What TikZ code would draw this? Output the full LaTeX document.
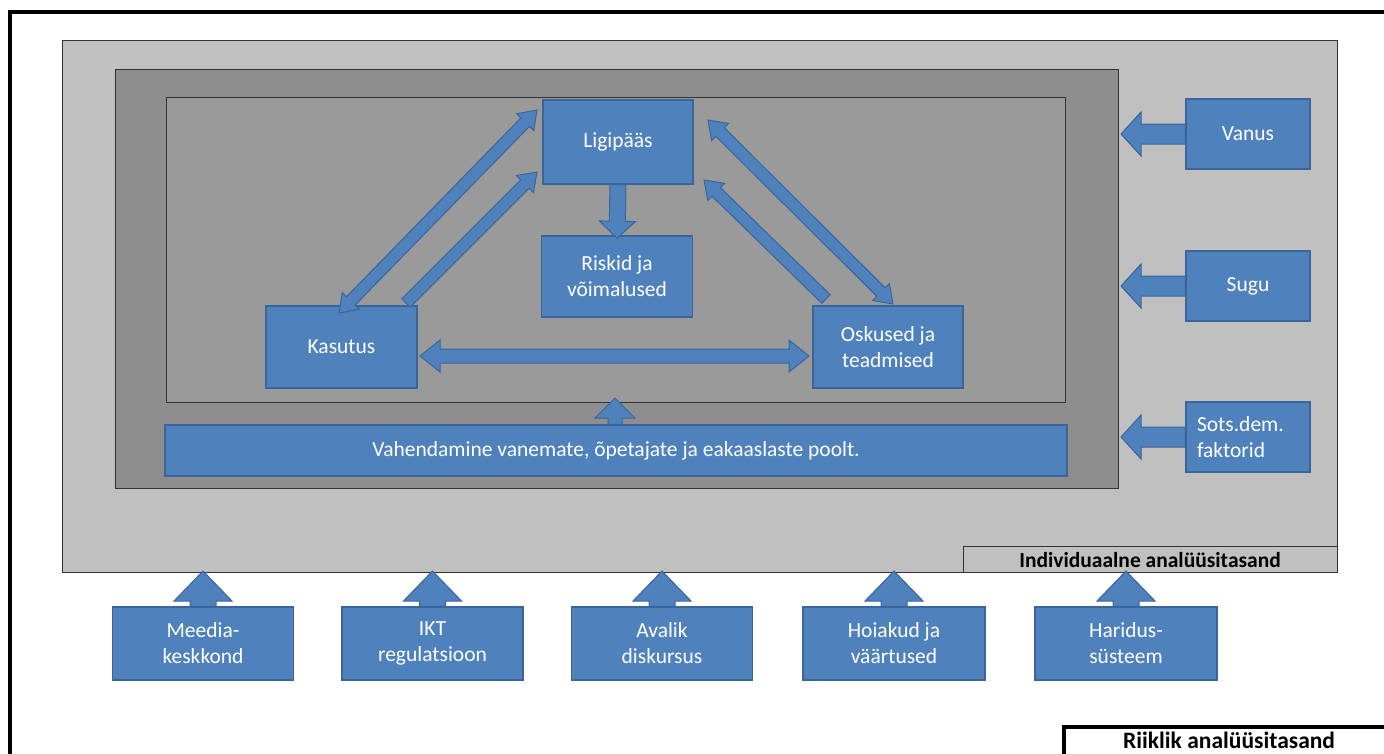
\documentclass[tikz,border=0pt]{standalone}
\usepackage{fontspec}
\setmainfont{Carlito}
\usetikzlibrary{calc}
\definecolor{boxblue}{HTML}{4F81BD}
\definecolor{boxedge}{HTML}{3A659A}
\definecolor{lgray}{HTML}{C0C0C0}
\definecolor{mgray}{HTML}{8E8E8E}
\definecolor{igray}{HTML}{9A9A9A}
\tikzset{
  bbox/.style={draw=boxedge, line width=1.5pt, fill=boxblue, text=white,
    font=\fontsize{21.5}{26}\selectfont, align=center, inner sep=0pt},
  arr/.style={draw=boxedge, line width=1pt, fill=boxblue},
  graybox/.style={draw=black!80, line width=0.8pt, inner sep=0pt},
  lbl/.style={font=\bfseries\fontsize{21.5}{24}\selectfont, inner sep=0pt}
}
\makeatletter
\newcommand{\blockarr}[6]{%
  \path (#1); \pgfgetlastxy{\ba@xa}{\ba@ya}%
  \path (#2); \pgfgetlastxy{\ba@xb}{\ba@yb}%
  \pgfmathsetmacro\ba@ang{atan2((\ba@yb)-(\ba@ya),(\ba@xb)-(\ba@xa))}%
  \pgfmathsetmacro\ba@len{veclen((\ba@xb)-(\ba@xa),(\ba@yb)-(\ba@ya))}%
  \begin{scope}[shift={(\ba@xa,\ba@ya)},rotate=\ba@ang]
  \ifnum#6=2\relax
   \filldraw[arr] (0pt,0pt) -- (#5pt,#4pt) -- (#5pt,#3pt) -- (\ba@len pt-#5pt,#3pt) -- (\ba@len pt-#5pt,#4pt) -- (\ba@len pt,0pt) -- (\ba@len pt-#5pt,-#4pt) -- (\ba@len pt-#5pt,-#3pt) -- (#5pt,-#3pt) -- (#5pt,-#4pt) -- cycle;
  \else
   \filldraw[arr] (0pt,#3pt) -- (\ba@len pt-#5pt,#3pt) -- (\ba@len pt-#5pt,#4pt) -- (\ba@len pt,0pt) -- (\ba@len pt-#5pt,-#4pt) -- (\ba@len pt-#5pt,-#3pt) -- (0pt,-#3pt) -- cycle;
  \fi
  \end{scope}}
\makeatother
\begin{document}
\begin{tikzpicture}[x=1pt,y=1pt]
\useasboundingbox (0,0) rectangle (1384,-753);
\clip (0,0) rectangle (1384,-753);
\fill[white] (0,0) rectangle (1384,-753);
% outer frame
\draw[line width=4pt] (1390,-12) -- (10,-12) -- (10,-760);
% gray levels
\node[graybox, fill=lgray, minimum width=1275pt, minimum height=532pt, anchor=north west] (lg) at (62,-40) {};
\node[graybox, fill=lgray, minimum width=374pt, minimum height=26pt, anchor=south east] (indiv) at (lg.south east) {};
\node[lbl, anchor=base] (indivtxt) at (1150,-567) {Individuaalne analüüsitasand};
\node[graybox, fill=mgray, minimum width=1003pt, minimum height=419pt, anchor=north west] (mg) at (115,-69) {};
\node[graybox, fill=igray, minimum width=899pt, minimum height=305pt, anchor=north west] (ig) at (166,-97) {};
% blue boxes
\node[bbox, minimum width=150pt, minimum height=84pt] (lig) at (618,-142) {Ligipääs};
\node[bbox, minimum width=151pt, minimum height=81pt] (risk) at (617,-276.5) {Riskid ja\\võimalused};
\node[bbox, minimum width=151pt, minimum height=82pt] (kas) at (341.5,-347) {Kasutus};
\node[bbox, minimum width=150pt, minimum height=82pt] (osk) at (888,-347) {Oskused ja\\teadmised};
\node[bbox, minimum width=902pt, minimum height=51pt] (bar) at (616,-450.5) {Vahendamine vanemate, õpetajate ja eakaaslaste poolt.};
\node[bbox, minimum width=124pt, minimum height=70pt] (vanus) at (1248,-134) {Vanus};
\node[bbox, minimum width=124pt, minimum height=70pt] (sugu) at (1248,-286) {Sugu};
\node[bbox, minimum width=124pt, minimum height=70pt, align=left, text width=102pt] (sots) at (1248,-437) {Sots.dem.\\faktorid};
\node[bbox, minimum width=181pt, minimum height=73pt] (meedia) at (203,-643.5) {Meedia-\\keskkond};
\node[bbox, minimum width=181pt, minimum height=73pt] (ikt) at (432.5,-643.5) {IKT\\regulatsioon};
\node[bbox, minimum width=181pt, minimum height=73pt] (avalik) at (662,-643.5) {Avalik\\diskursus};
\node[bbox, minimum width=182pt, minimum height=73pt] (hoiak) at (894,-643.5) {Hoiakud ja\\väärtused};
\node[bbox, minimum width=182pt, minimum height=73pt] (harid) at (1126,-643.5) {Haridus-\\süsteem};
% arrow end coordinates
\coordinate (lo1) at (339,-313);  \coordinate (lo2) at (537,-110);
\coordinate (li1) at (406,-303);  \coordinate (li2) at (537,-172);
\coordinate (ro1) at (708,-120);  \coordinate (ro2) at (893,-304);
\coordinate (ri1) at (826,-299);  \coordinate (ri2) at (704,-180);
\coordinate (h1) at (420,-356);   \coordinate (h2) at (809,-356);
\coordinate (d1) at (lig.south);  \coordinate (d2) at ($(risk.north)+(0,-3)$);
\coordinate (u1) at ($(bar.north)+(-1,0)$); \coordinate (u2) at (615,-398);
% arrows
\blockarr{lo1}{lo2}{6}{12}{17}{2}
\blockarr{li1}{li2}{6}{12}{17}{1}
\blockarr{ro1}{ro2}{6}{12}{17}{2}
\blockarr{ri1}{ri2}{6}{12}{17}{1}
\blockarr{h1}{h2}{7}{16}{20}{2}
\blockarr{d1}{d2}{8}{18}{17}{1}
\blockarr{u1}{u2}{7}{20}{20}{1}
\coordinate (va) at (1121,-134); \coordinate (sa) at (1121,-286); \coordinate (sd) at (1121,-437);
\blockarr{vanus.west}{va}{10}{22}{20}{1}
\blockarr{sugu.west}{sa}{10}{22}{20}{1}
\blockarr{sots.west}{sd}{10}{22}{20}{1}
\coordinate (ma) at (203,-571); \coordinate (ia) at (432.5,-571); \coordinate (aa) at (662,-571);
\coordinate (ha) at (894,-571); \coordinate (sa2) at (1126,-571);
\blockarr{meedia.north}{ma}{13}{29}{30}{1}
\blockarr{ikt.north}{ia}{13}{29}{30}{1}
\blockarr{avalik.north}{aa}{13}{29}{30}{1}
\blockarr{hoiak.north}{ha}{13}{29}{30}{1}
\blockarr{harid.north}{sa2}{13}{29}{30}{1}
% national level label
\draw[line width=3.5pt] (1064,-760) -- (1064,-727) -- (1390,-727);
\node[lbl, font=\bfseries\fontsize{23.5}{26}\selectfont, anchor=base] (riik) at (1229,-748) {Riiklik analüüsitasand};
\end{tikzpicture}
\end{document}
